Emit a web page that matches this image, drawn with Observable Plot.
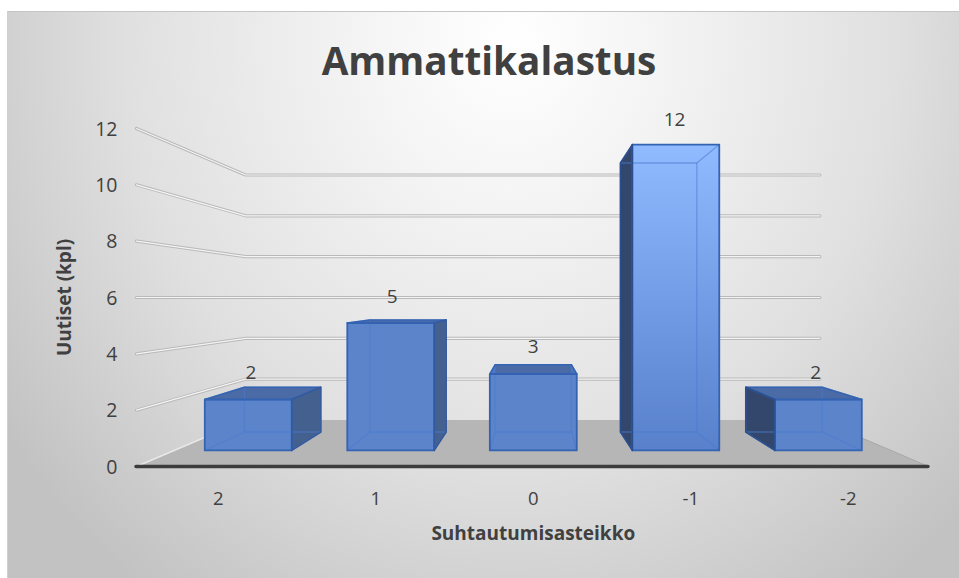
<!DOCTYPE html>
<html><head><meta charset="utf-8">
<script src="https://cdn.jsdelivr.net/npm/d3@7"></script>
<script src="https://cdn.jsdelivr.net/npm/@observablehq/plot@0.6"></script>
<style>
html,body{margin:0;padding:0;background:#fff;width:959px;height:578px;overflow:hidden}
#card{position:absolute;left:7px;top:11px;width:952px;height:567px;box-sizing:border-box;
 border-top:1px solid #c6c6c6;border-left:1px solid #d0d0d0;
 background:radial-gradient(ellipse 620px 680px at 503px 30px,#ffffff 0%,#f5f5f5 22%,#e0e0e0 62%,#c2c2c2 100%);}
#title{position:absolute;left:5.5px;top:0;width:100%;height:84px;text-align:center;
 font:700 38.7px/97px "Open Sans",sans-serif;color:#404040;margin:0}
#chart{position:absolute;left:-1px;top:84px}
#chart svg{display:block;background:transparent}
</style></head><body>
<div id="card"><h1 id="title">Ammattikalastus</h1><div id="chart"></div></div>
<script>
const categories = ["2","1","0","-1","-2"];
const uutiset = [2,5,3,12,2];
const valueTicks = [0,2,4,6,8,10,12];
const wallValues = [2,4,6,8,10,12];
const xTitle = "Suhtautumisasteikko";
const yTitle = "Uutiset (kpl)";

// one-point perspective: depth 0 = front of the floor, depth 1 = back wall
const xFloor = [-0.52, 4.51], vanishX = 2, vanishV = 6, shrink = 0.275;
const barHalf = 0.305, barFront = 0.345, barBack = 0.742, labelDepth = 0.375;
const at = (c, v, d) => { const s = 1 - shrink * d; return {x: vanishX + (c - vanishX) * s, y: vanishV + (v - vanishV) * s}; };
const poly = (id, pts) => pts.map(([c, v, d]) => ({id, ...at(c, v, d)}));

const wall = wallValues.flatMap(v => poly(v, [[xFloor[0], v, 0],[xFloor[0], v, 1],[xFloor[1], v, 1]]));
const floor = poly("floor", [[xFloor[0],0,0],[xFloor[0],0,1],[xFloor[1],0,1],[xFloor[1],0,0]]);
const floorL = poly("l", [[xFloor[0],0,0],[xFloor[0],0,1]]);
const floorR = poly("r", [[xFloor[1],0,0],[xFloor[1],0,1]]);

const box = (i, v) => {
  const a = i - barHalf, b = i + barHalf, f = barFront, k = barBack;
  return {
    front: [[a,0,f],[b,0,f],[b,v,f],[a,v,f],[a,0,f]],
    back: [[a,0,k],[b,0,k],[b,v,k],[a,v,k],[a,0,k]],
    top: [[a,v,f],[b,v,f],[b,v,k],[a,v,k],[a,v,f]],
    bottom: [[a,0,f],[b,0,f],[b,0,k],[a,0,k],[a,0,f]],
    left: [[a,0,f],[a,v,f],[a,v,k],[a,0,k],[a,0,f]],
    right: [[b,0,f],[b,v,f],[b,v,k],[b,0,k],[b,0,f]]
  };
};
const boxes = uutiset.map((v, i) => box(i, v));
const faces = (name, keep = () => true) => boxes.flatMap((b, i) => keep(i) ? poly(name + i, b[name]) : []);
const fillFace = (data, fill, fillOpacity = 1) => Plot.line(data, {x:"x", y:"y", z:"id", fill, fillOpacity, stroke:"none"});
const edge = (data, stroke, strokeWidth, strokeOpacity = 1) => Plot.line(data, {x:"x", y:"y", z:"id", stroke, strokeWidth, strokeOpacity});
const inner = boxes.flatMap((b, i) => {
  const v = uutiset[i], a = i - barHalf, c = i + barHalf, f = barFront, k = barBack;
  return [
    ...poly("ib"+i, b.back),
    ...poly("e1"+i, [[a,0,f],[a,0,k]]), ...poly("e2"+i, [[c,0,f],[c,0,k]]),
    ...poly("e3"+i, [[a,v,f],[a,v,k]]), ...poly("e4"+i, [[c,v,f],[c,v,k]])
  ];
});

const labels = uutiset.map((v, i) => ({...at(i, v, labelDepth), t: String(v)}));
const tall = i => uutiset[i] > vanishV;
const gradient = () => {
  const s = d3.create("svg:defs");
  const g = s.append("linearGradient").attr("id","tallBar").attr("x1",0).attr("x2",0).attr("y1",0).attr("y2",1);
  g.append("stop").attr("offset",0).attr("stop-color","#91bbff");
  g.append("stop").attr("offset",0.5).attr("stop-color","#739de6");
  g.append("stop").attr("offset",1).attr("stop-color","#5880cb");
  return s.node();
};

const chart = Plot.plot({
  width: 952, height: 482,
  marginLeft: 129, marginRight: 31, marginTop: 32, marginBottom: 112,
  style: {fontFamily:'"Open Sans",sans-serif', background:"transparent", overflow:"visible"},
  x: {domain: xFloor, axis: null},
  y: {domain: [0, 12], axis: null},
  marks: [
    gradient,
    Plot.axisY({ticks: valueTicks, tickSize: 0, tickPadding: 19, dy: 1, fontSize: 19.5, label: null, color:"#404040"}),
    Plot.axisX({ticks: categories.map((_, i) => i), tickFormat: i => categories[i], tickSize: 0, tickPadding: 25, fontSize: 18.5, label: null, color:"#404040"}),
    Plot.text([yTitle], {text: d => d, frameAnchor:"left", textAnchor:"middle", rotate:-90, dx:-72, fontSize: 19, fontWeight: 700, fill:"#404040"}),
    Plot.text([xTitle], {text: d => d, x: () => vanishX, frameAnchor:"bottom", dy:73, fontSize: 19, fontWeight: 700, fill:"#404040"}),
    edge(wall, "#b9b9b9", 3.2),
    edge(wall, "#f4f4f4", 1.2),
    fillFace(floor, "#b6b6b6"),
    edge(floorL, "#e8e8e8", 1.5),
    edge(floorR, "#a8a8a8", 1),
    Plot.ruleY([0], {stroke:"#3c3c3c", strokeWidth: 3.4, strokeLinecap:"round"}),
    fillFace(faces("top"), "#4a6ba5"),
    fillFace(faces("right", i => i < 2), "#43608f"),
    fillFace(faces("left", i => i > 2), "#33466b"),
    fillFace(faces("left", i => i === 2), "#4f78c2"),
    fillFace(faces("right", i => i === 2), "#4a72ba"),
    fillFace(faces("front", i => !tall(i)), "#5b84cb"),
    fillFace(faces("front", tall), "url(#tallBar)"),
    edge(inner, "#4a7bd0", 1.3, 0.55),
    edge(faces("front"), "#3463b2", 1.8),
    edge(faces("top", i => !tall(i)), "#3463b2", 1.5),
    edge(faces("right", i => i < 2), "#34599e", 1.5),
    edge(faces("left", i => i > 2), "#2a4f90", 1.5),
    Plot.text(labels, {x:"x", y:"y", text:"t", dy:-26, fontSize: 19, fill:"#404040"})
  ]
});
document.getElementById("chart").append(chart);
</script>
</body></html>
